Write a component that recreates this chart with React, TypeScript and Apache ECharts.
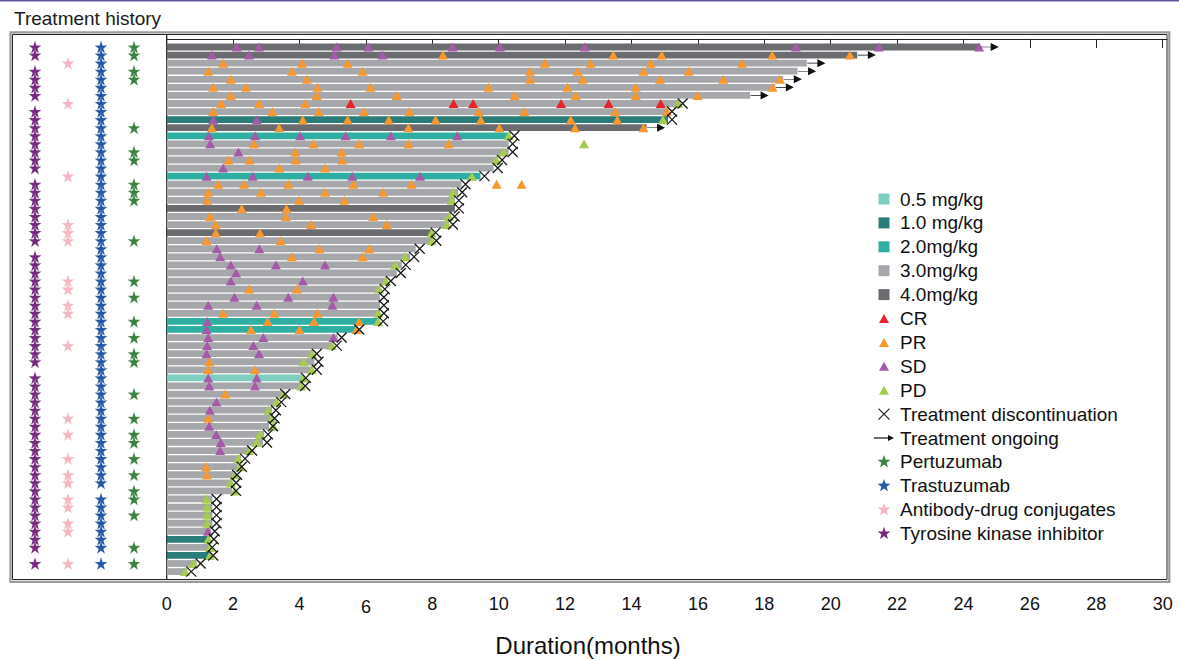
import React, { useEffect, useRef } from 'react';
import * as echarts from 'echarts';

const FONT = "'Liberation Sans', Arial, Helvetica, sans-serif";

// ---------- data ----------
const DOSE_LEVELS = [0.5, 1, 2, 3, 4];
const DOSE_LABELS = ['0.5 mg/kg', '1.0 mg/kg', '2.0mg/kg', '3.0mg/kg', '4.0mg/kg'];
const DOSE_COLORS = ['#7fcdbf', '#2a7c79', '#2eafa2', '#a6a7aa', '#6b6c70'];

// dose (mg/kg) per patient row, top to bottom (row 1..66)
const rowDose = [
  4, 4, 3, 3, 3, 3, 3, 3, 3, 1,
  4, 2, 3, 3, 3, 3, 2, 3, 3, 3,
  4, 3, 3, 4, 3, 3, 3, 3, 3, 3,
  3, 3, 3, 3, 2, 2, 3, 3, 3, 3,
  3, 0.5, 3, 3, 3, 3, 3, 3, 3, 3,
  3, 3, 3, 3, 3, 3, 3, 3, 3, 3,
  3, 1, 3, 1, 3, 3,
];

// treatment duration (months) per row
const rowDuration = [
  24.5, 20.8, 19.28, 19.0, 18.57, 18.33, 17.57, 15.42, 15.1, 15.1,
  14.45, 10.35, 10.3, 10.3, 9.98, 9.85, 9.45, 8.88, 8.78, 8.68,
  8.68, 8.55, 8.5, 7.98, 8.0, 7.5, 7.33, 7.08, 6.93, 6.63,
  6.45, 6.42, 6.42, 6.42, 6.4, 5.68, 5.15, 5.0, 4.4, 4.45,
  4.4, 4.07, 4.05, 3.45, 3.33, 3.17, 3.13, 3.08, 2.93, 2.9,
  2.45, 2.24, 2.14, 2.0, 1.97, 1.97, 1.38, 1.38, 1.38, 1.38,
  1.33, 1.3, 1.25, 1.28, 0.9, 0.62,
];

const ongoingRows = [1, 2, 3, 4, 5, 6, 7, 11];

const CR: [number, number[]][] = [
  [8, [5.54, 8.64, 9.23, 11.88, 13.31, 14.88]],
];

const PR: [number, number[]][] = [
  [2, [8.32, 13.45, 14.91, 18.24, 20.58]],
  [3, [1.7, 4.08, 5.45, 11.39, 12.77, 14.58, 17.33]],
  [4, [1.25, 3.77, 5.9, 10.94, 12.37, 14.36, 15.72]],
  [5, [1.93, 4.22, 10.94, 12.53, 14.86, 16.76, 18.47]],
  [6, [1.4, 2.39, 4.54, 6.14, 9.69, 12.07, 14.13, 18.25]],
  [7, [1.93, 4.52, 6.93, 10.48, 12.32, 14.13, 15.99]],
  [8, [1.64, 2.78, 4.17]],
  [9, [1.4, 3.18, 4.58, 5.94, 7.31, 9.4, 10.77, 13.51, 15.07]],
  [10, [4.1, 5.45, 6.69, 8.1, 9.46, 12.17, 13.57]],
  [11, [1.36, 3.39, 7.28, 10.02, 12.3, 14.36]],
  [13, [2.63, 4.42, 5.79, 7.28, 8.49]],
  [14, [3.87, 5.27]],
  [15, [1.86, 2.49, 3.89, 5.29]],
  [16, [3.39, 4.77]],
  [18, [1.55, 2.33, 3.66, 5.62, 7.38, 9.94, 10.69]],
  [19, [1.25, 2.84, 4.77, 6.52]],
  [20, [1.22, 3.99, 5.35]],
  [21, [2.26, 3.61]],
  [22, [1.3, 3.59, 6.22]],
  [23, [1.48, 4.35, 6.63]],
  [24, [1.48, 2.81]],
  [25, [1.2, 3.43]],
  [26, [4.6, 6.1]],
  [27, [3.77, 5.9]],
  [31, [2.48, 3.92]],
  [34, [1.7, 3.24, 4.54]],
  [35, [3.04, 4.44, 5.8]],
  [36, [2.54, 4.0, 5.72]],
  [40, [1.28]],
  [41, [1.25, 2.66]],
  [44, [1.76]],
  [47, [1.25]],
  [53, [1.19]],
  [54, [1.21]],
];

const SD: [number, number[]][] = [
  [1, [2.11, 2.78, 5.12, 6.07, 8.61, 10.04, 12.59, 18.95, 21.45, 24.47]],
  [2, [1.36, 2.48, 5.05, 6.5]],
  [10, [1.4, 2.71]],
  [12, [1.27, 2.66, 4.02, 5.39, 6.75, 8.75]],
  [13, [1.31]],
  [14, [2.16]],
  [16, [1.7]],
  [17, [1.2, 2.59, 4.25, 5.59, 7.63]],
  [26, [1.51, 2.79]],
  [27, [1.61]],
  [28, [1.93, 3.29, 4.77]],
  [29, [2.09]],
  [30, [1.93, 4.1]],
  [32, [2.04, 3.66, 5.02]],
  [33, [1.25, 2.71, 4.99]],
  [35, [1.22]],
  [36, [1.2]],
  [37, [1.25, 2.91, 5.02]],
  [38, [1.22, 2.61]],
  [39, [1.2, 2.78]],
  [42, [1.25, 2.71]],
  [43, [1.28, 2.66]],
  [45, [1.5]],
  [46, [1.3]],
  [48, [1.28]],
  [49, [1.49]],
  [50, [1.63]],
  [51, [1.61]],
  [61, [1.24]],
];

const PD: [number, number[]][] = [
  [8, [15.41]], [10, [14.95]], [12, [10.3]], [13, [12.57]], [14, [10.15]],
  [15, [9.93]], [17, [9.19]], [19, [8.63]], [20, [8.58]], [22, [8.5]],
  [23, [8.44]], [24, [7.98]], [25, [7.98]], [27, [7.18]], [28, [6.88]],
  [30, [6.6]], [31, [6.4]], [34, [6.37]], [35, [6.37]], [38, [4.97]],
  [39, [4.38]], [40, [4.12]], [41, [4.37]], [42, [4.12]], [43, [4.05]],
  [44, [3.51]], [45, [3.31]], [46, [3.06]], [47, [3.16]], [48, [3.21]],
  [49, [2.81]], [50, [2.71]], [51, [2.48]], [52, [2.16]], [53, [2.21]],
  [54, [2.05]], [55, [1.93]], [56, [2.05]], [57, [1.2]], [58, [1.22]],
  [59, [1.22]], [60, [1.22]], [62, [1.25]], [63, [1.3]], [64, [1.3]],
  [65, [0.8]], [66, [0.55]],
];

// prior treatment history (rows that received each therapy)
const TKI_ROWS = [1, 2, 4, 5, 6, 7, 9, 10, 11, 12, 13, 14, 15, 16, 18, 19, 20, 21, 22, 23, 24, 25,
  27, 28, 29, 30, 31, 32, 33, 34, 35, 36, 37, 38, 39, 40, 42, 43, 44, 45, 46, 47, 48, 49, 50, 51,
  52, 53, 54, 55, 56, 57, 58, 59, 60, 61, 62, 63, 65];
const ADC_ROWS = [3, 8, 17, 23, 24, 25, 30, 31, 33, 34, 38, 47, 49, 52, 54, 55, 57, 58, 60, 61, 65];
const TRAS_ROWS = [1, 2, 3, 4, 5, 6, 7, 8, 9, 10, 11, 12, 13, 14, 15, 16, 17, 18, 19, 20, 21, 22,
  23, 24, 25, 26, 27, 28, 29, 30, 31, 32, 33, 34, 35, 36, 37, 38, 39, 40, 41, 42, 43, 44, 45, 46,
  47, 48, 49, 50, 51, 52, 53, 54, 55, 57, 58, 59, 60, 61, 62, 63, 65];
const PERT_ROWS = [1, 2, 4, 5, 11, 14, 15, 18, 19, 20, 25, 30, 32, 35, 37, 39, 40, 44, 47, 49, 50,
  52, 54, 56, 57, 59, 63, 65];

const X_TICKS = [0, 2, 4, 6, 8, 10, 12, 14, 16, 18, 20, 22, 24, 26, 28, 30];

// ---------- styling ----------
const C_CR = '#e8232a';
const C_PR = '#f7972f';
const C_SD = '#a55aa9';
const C_PD = '#a5cc50';
const C_TKI = '#752a7f';
const C_ADC = '#f6b5c3';
const C_TRAS = '#2457a6';
const C_PERT = '#3b8140';

const STAR = 'path://M50,0L61.2,34.5L97.6,34.5L68.2,55.9L79.4,90.5L50,69.1L20.6,90.5L31.8,55.9L2.4,34.5L38.8,34.5Z';
const XMARK = 'path://M0,0L10,10M10,0L0,10';
const ARROW = 'path://M0,4L13,4M11,1L17,4L11,7Z';

const GRID_TOP = 34.5;
const GRID_H = 545;
const Y_MIN = -0.549;
const Y_MAX = 66.98;

function flat(list: [number, number[]][]) {
  return list.flatMap(([row, ms]) => ms.map((m) => [m, row]));
}

function starPts(cx: number, cy: number, r: number) {
  const pts: number[][] = [];
  for (let i = 0; i < 10; i++) {
    const rr = i % 2 === 0 ? r : r * 0.4;
    const a = -Math.PI / 2 + (i * Math.PI) / 5;
    pts.push([cx + rr * Math.cos(a), cy + rr * Math.sin(a)]);
  }
  return pts;
}

function buildLegend() {
  const items: any[] = [];
  const entries: { kind: string; color: string; label: string }[] = [
    ...DOSE_LABELS.map((l, i) => ({ kind: 'square', color: DOSE_COLORS[i], label: l })),
    { kind: 'tri', color: C_CR, label: 'CR' },
    { kind: 'tri', color: C_PR, label: 'PR' },
    { kind: 'tri', color: C_SD, label: 'SD' },
    { kind: 'tri', color: C_PD, label: 'PD' },
    { kind: 'x', color: '#222', label: 'Treatment discontinuation' },
    { kind: 'arrow', color: '#111', label: 'Treatment ongoing' },
    { kind: 'star', color: C_PERT, label: 'Pertuzumab' },
    { kind: 'star', color: C_TRAS, label: 'Trastuzumab' },
    { kind: 'star', color: C_ADC, label: 'Antibody-drug conjugates' },
    { kind: 'star', color: C_TKI, label: 'Tyrosine kinase inhibitor' },
  ];
  const cx = 884;
  entries.forEach((e, i) => {
    const y = 199 + i * 23.9;
    if (e.kind === 'square') {
      items.push({ type: 'rect', shape: { x: cx - 5.5, y: y - 5.5, width: 11, height: 11 }, style: { fill: e.color } });
    } else if (e.kind === 'tri') {
      items.push({ type: 'polygon', shape: { points: [[cx - 5, y + 4.5], [cx + 5, y + 4.5], [cx, y - 4.5]] }, style: { fill: e.color } });
    } else if (e.kind === 'x') {
      items.push({ type: 'line', shape: { x1: cx - 5.5, y1: y - 5.5, x2: cx + 5.5, y2: y + 5.5 }, style: { stroke: e.color, lineWidth: 1.3 } });
      items.push({ type: 'line', shape: { x1: cx + 5.5, y1: y - 5.5, x2: cx - 5.5, y2: y + 5.5 }, style: { stroke: e.color, lineWidth: 1.3 } });
    } else if (e.kind === 'arrow') {
      items.push({ type: 'line', shape: { x1: cx - 10, y1: y, x2: cx + 6, y2: y }, style: { stroke: e.color, lineWidth: 1.2 } });
      items.push({ type: 'polygon', shape: { points: [[cx + 4, y - 3], [cx + 10, y], [cx + 4, y + 3]] }, style: { fill: e.color } });
    } else {
      items.push({ type: 'polygon', shape: { points: starPts(cx, y, 6.8) }, style: { fill: e.color } });
    }
    items.push({
      type: 'text', x: 900, y,
      style: { text: e.label, fill: '#111', fontSize: 19, fontFamily: FONT, align: 'left', verticalAlign: 'middle' },
    });
  });
  return items;
}

function buildOption(): any {
  const doseColor = (d: number) => DOSE_COLORS[DOSE_LEVELS.indexOf(d)];
  const barData = rowDuration.map((d, i) => [d, i + 1, rowDose[i]]);
  const stopped = rowDuration
    .map((d, i) => [d, i + 1])
    .filter((p) => !ongoingRows.includes(p[1]));
  const ongoing = ongoingRows.map((r) => [rowDuration[r - 1], r]);

  const tri = (name: string, color: string, data: any[]) => ({
    name, type: 'scatter', xAxisIndex: 1, yAxisIndex: 1, symbol: 'triangle', symbolSize: [10, 9],
    itemStyle: { color, opacity: 1 }, data, z: 4, silent: true,
  });
  const star = (name: string, col: number, color: string, rows: number[]) => ({
    name, type: 'scatter', xAxisIndex: 0, yAxisIndex: 0, symbol: STAR, symbolSize: 13,
    itemStyle: { color, opacity: 1, borderColor: 'rgba(255,255,255,0.35)', borderWidth: 0.5 },
    data: rows.map((r) => [col, r]), z: 3, silent: true,
  });

  return {
    animation: false,
    backgroundColor: '#ffffff',
    textStyle: { fontFamily: FONT },
    grid: [
      { left: 12.5, width: 154.2, top: GRID_TOP, height: GRID_H, show: true, borderColor: '#222', borderWidth: 1, backgroundColor: 'transparent' },
      { left: 166.7, width: 1000.3, top: GRID_TOP, height: GRID_H, show: true, borderColor: '#222', borderWidth: 1, backgroundColor: 'transparent' },
    ],
    xAxis: [
      { gridIndex: 0, type: 'value', min: -0.682, max: 3.99, show: false },
      {
        gridIndex: 1, type: 'value', min: 0, max: 30.13,
        axisLine: { show: true, lineStyle: { color: '#222', width: 1 } },
        axisTick: { show: true, customValues: X_TICKS, length: 9, lineStyle: { color: '#222', width: 1 } },
        axisLabel: {
          show: true, customValues: X_TICKS, margin: 15, color: '#111', fontSize: 18, fontFamily: FONT,
          formatter: (v: number) => (v === 6 ? '{low|6}' : String(v)),
          rich: { low: { padding: [3, 0, 0, 0], fontSize: 18, fontFamily: FONT, color: '#111' } },
        },
        splitLine: { show: false },
      },
    ],
    yAxis: [
      { gridIndex: 0, type: 'value', inverse: true, min: Y_MIN, max: Y_MAX, show: false },
      { gridIndex: 1, type: 'value', inverse: true, min: Y_MIN, max: Y_MAX, show: false },
    ],
    series: [
      {
        name: 'Dose', type: 'custom', xAxisIndex: 1, yAxisIndex: 1, z: 1, silent: true,
        data: barData,
        renderItem: (_p: any, api: any) => {
          const end = api.value(0);
          const row = api.value(1);
          const dose = api.value(2);
          const a = api.coord([0, row]);
          const b = api.coord([end, row]);
          const h = 6.8;
          return {
            type: 'rect',
            shape: { x: a[0], y: a[1] - h / 2, width: b[0] - a[0], height: h },
            style: { fill: doseColor(dose) },
          };
        },
      },
      tri('CR', C_CR, flat(CR)),
      tri('PR', C_PR, flat(PR)),
      tri('SD', C_SD, flat(SD)),
      tri('PD', C_PD, flat(PD)),
      {
        name: 'Treatment discontinuation', type: 'scatter', xAxisIndex: 1, yAxisIndex: 1,
        symbol: XMARK, symbolSize: 10, symbolOffset: [4, 0], z: 5, silent: true,
        itemStyle: { color: 'transparent', borderColor: '#1a1a1a', borderWidth: 1.3, opacity: 1 },
        data: stopped,
      },
      {
        name: 'Treatment ongoing', type: 'scatter', xAxisIndex: 1, yAxisIndex: 1,
        symbol: ARROW, symbolSize: [17, 6], symbolOffset: [9, 0], z: 5, silent: true, clip: false,
        itemStyle: { color: '#111', borderColor: '#111', borderWidth: 1.1, opacity: 1 },
        data: ongoing,
      },
      star('Tyrosine kinase inhibitor', 0, C_TKI, TKI_ROWS),
      star('Antibody-drug conjugates', 1, C_ADC, ADC_ROWS),
      star('Trastuzumab', 2, C_TRAS, TRAS_ROWS),
      star('Pertuzumab', 3, C_PERT, PERT_ROWS),
    ],
    graphic: [
      { type: 'rect', shape: { x: 0, y: 0, width: 1179, height: 1.6 }, style: { fill: '#5c5a9c' }, z: 10 },
      { type: 'rect', shape: { x: 10.5, y: 32.3, width: 1158.8, height: 549.5 }, style: { fill: 'none', stroke: '#9a9a9a', lineWidth: 2.2 }, z: 0 },
      {
        type: 'text', x: 14, y: 18.5,
        style: { text: 'Treatment history', fill: '#1a1a1a', fontSize: 19, fontFamily: FONT, align: 'left', verticalAlign: 'middle' },
      },
      {
        type: 'text', x: 588, y: 645,
        style: { text: 'Duration(months)', fill: '#111', fontSize: 24, fontFamily: FONT, align: 'center', verticalAlign: 'middle' },
      },
      ...buildLegend(),
    ],
  };
}

export default function App() {
  const ref = useRef<HTMLDivElement>(null);
  useEffect(() => {
    if (!ref.current) return;
    const chart = echarts.init(ref.current, null, { renderer: 'svg' });
    chart.setOption(buildOption());
    return () => chart.dispose();
  }, []);
  return <div ref={ref} style={{ position: 'absolute', left: 0, top: 0, width: 1179, height: 660 }} />;
}
